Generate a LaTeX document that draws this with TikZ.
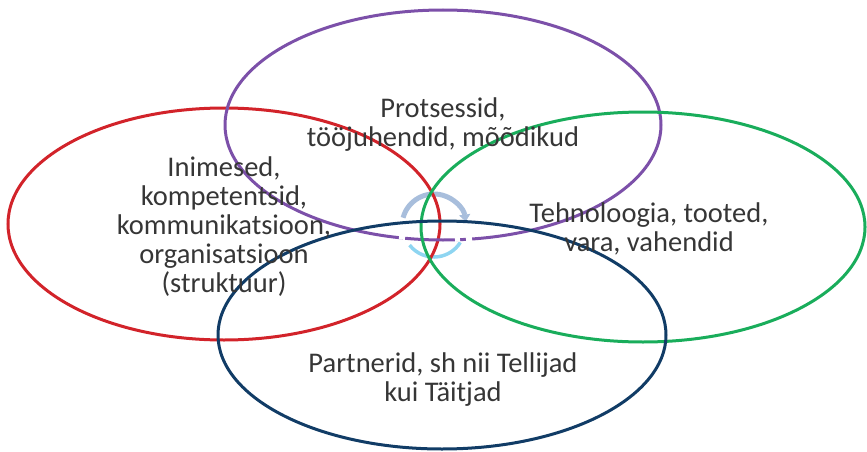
\documentclass[tikz,border=0pt]{standalone}
\usepackage{fontspec}
\setmainfont{Carlito}
\usetikzlibrary{arrows.meta}
\definecolor{ringred}{HTML}{D2232A}
\definecolor{ringpurple}{HTML}{7C50A9}
\definecolor{ringgreen}{HTML}{19AD5B}
\definecolor{ringnavy}{HTML}{113C66}
\definecolor{arcsteel}{HTML}{A8BEDC}
\definecolor{arcsky}{HTML}{8ED5F1}
\definecolor{labelgray}{HTML}{363636}
\begin{document}
\begin{tikzpicture}[x=1pt,y=-1pt,
  ring/.style={line width=3pt},
  notch/.style={white,line width=4pt},
  label/.style={text=labelgray,align=center,font=\fontsize{28.5}{29}\selectfont,inner sep=0pt}]
\useasboundingbox (0,0) rectangle (867,452);
% cycle arrow in the middle
\coordinate (hub) at (434,226);
\draw[arcsteel,line width=5pt,-{Triangle[length=7pt,width=11pt]}] (hub) ++(165:32pt) arc[start angle=165,end angle=8,radius=32pt];
\draw[arcsky,line width=3.5pt] (hub) ++(218:31pt) arc[start angle=218,end angle=328,radius=31pt];
% the four rings
\draw[ring,ringred] (224,224) ellipse [x radius=216pt, y radius=116pt];
\draw[ring,ringpurple] (443,125) ellipse [x radius=218pt, y radius=115pt];
\draw[ring,ringgreen] (643,227) ellipse [x radius=222pt, y radius=115pt];
\draw[ring,ringnavy] (442,335) ellipse [x radius=224pt, y radius=114pt];
% small white breaks where the cycle arrow crosses the purple ring
\draw[notch] (399,237.4) -- (405,237.9);
\draw[notch] (455,239.8) -- (460,239.6);
\draw[notch] (466,239.3) -- (472,238.8);
% labels
\node[label] (proc) at (443,125) {Protsessid,\\tööjuhendid, mõõdikud};
\node[label] (people) at (224,226.5) {Inimesed,\\kompetentsid,\\kommunikatsioon,\\organisatsioon\\(struktuur)};
\node[label] (tech) at (649,228.5) {Tehnoloogia, tooted,\\vara, vahendid};
\node[label] (partner) at (443,380) {Partnerid, sh nii Tellijad\\kui Täitjad};
\end{tikzpicture}
\end{document}
